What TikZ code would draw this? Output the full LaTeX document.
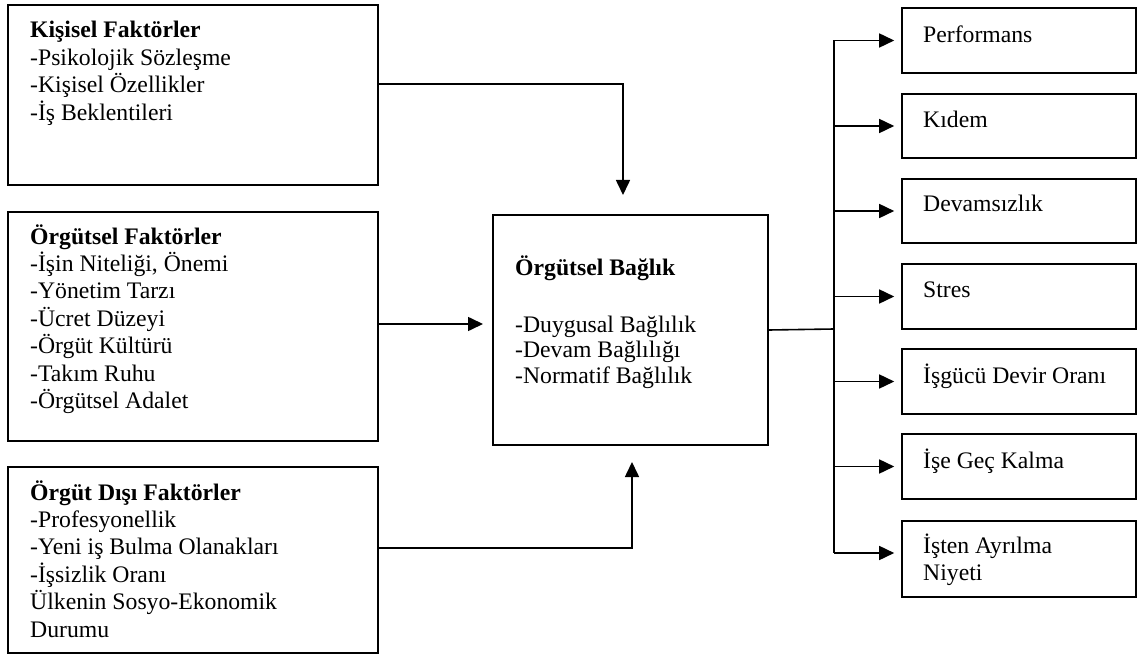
\documentclass[tikz,border=0pt]{standalone}
\usepackage{fontspec}
\setmainfont{Liberation Serif}
\usetikzlibrary{arrows.meta,calc}
\begin{document}
\begin{tikzpicture}[x=1pt,y=-1pt,
  box/.style={draw, line width=1.6pt, rectangle, inner sep=0pt},
  conn/.style={line width=1.6pt},
  arr/.style={conn, -{Triangle[length=15pt,width=14pt]}},
  txt/.style={anchor=base west, inner sep=0pt, align=left, font=\fontsize{23.7}{27.4}\selectfont},
]
\useasboundingbox (0,0) rectangle (1138,655);

% factor boxes on the left
\node[box, minimum width=370pt, minimum height=180pt] (b1) at (193,95) {};
\node[box, minimum width=370pt, minimum height=229pt] (b2) at (193,326.5) {};
\node[box, minimum width=370pt, minimum height=186pt] (b3) at (193,560) {};

% central box
\node[box, minimum width=275pt, minimum height=230pt] (c) at (630.5,330) {};

% outcome boxes on the right
\node[box, minimum width=234pt, minimum height=65pt] (r1) at (1019,40.5) {};
\node[box, minimum width=234pt, minimum height=64pt] (r2) at (1019,126) {};
\node[box, minimum width=234pt, minimum height=64pt] (r3) at (1019,211) {};
\node[box, minimum width=234pt, minimum height=65pt] (r4) at (1019,296.5) {};
\node[box, minimum width=234pt, minimum height=65pt] (r5) at (1019,381.5) {};
\node[box, minimum width=234pt, minimum height=65pt] (r6) at (1019,466.5) {};
\node[box, minimum width=234pt, minimum height=76pt] (r7) at (1019,559) {};

% texts (a multi-line node sits on the baseline of its last line)
\node[txt] (b1t) at (30,120.2) {\textbf{Kişisel Faktörler}\\-Psikolojik Sözleşme\\-Kişisel Özellikler\\-İş Beklentileri};
\node[txt] (b2t) at (30,408.4) {\textbf{Örgütsel Faktörler}\\-İşin Niteliği, Önemi\\-Yönetim Tarzı\\-Ücret Düzeyi\\-Örgüt Kültürü\\-Takım Ruhu\\-Örgütsel Adalet};
\node[txt] (b3t) at (30,637) {\textbf{Örgüt Dışı Faktörler}\\-Profesyonellik\\-Yeni iş Bulma Olanakları\\-İşsizlik Oranı\\Ülkenin Sosyo-Ekonomik\\Durumu};
\node[txt] (ct) at (515,275) {\textbf{Örgütsel Bağlık}};
\node[txt, font=\fontsize{23.7}{25.7}\selectfont] (cl) at (515,383.4) {-Duygusal Bağlılık\\-Devam Bağlılığı\\-Normatif Bağlılık};

\node[txt] (r1t) at (923,43) {Performans};
\node[txt] (r2t) at (923,128) {Kıdem};
\node[txt] (r3t) at (923,212) {Devamsızlık};
\node[txt] (r4t) at (923,297) {Stres};
\node[txt] (r5t) at (923,383) {İşgücü Devir Oranı};
\node[txt] (r6t) at (923,468) {İşe Geç Kalma};
\node[txt, font=\fontsize{23.7}{27}\selectfont] (r7t) at (923,580) {İşten Ayrılma\\Niyeti};

% arrow ends and junction points
\coordinate (in1) at (623,195);
\coordinate (in2) at (483,324);
\coordinate (in3) at (632,462);
\coordinate (trunk) at (834,329);
\coordinate (r7in) at ([yshift=6pt]r7.west);

% connectors into the central box
\draw[arr] ([yshift=11pt]b1.east) -| (in1);
\draw[arr] ([yshift=2.5pt]b2.east) -- (in2);
\draw[arr] ([yshift=12pt]b3.east) -| (in3);

% connectors out of the central box
\draw[conn] (c.east) -- (trunk);
\draw[conn] (trunk |- r1.west) -- (trunk |- r7in);
\foreach \r in {r1,r2,r3,r4,r5,r6}
  \draw[arr, shorten >=7pt] (trunk |- \r.west) -- (\r.west);
\draw[arr, shorten >=7pt] (trunk |- r7in) -- (r7in);
\end{tikzpicture}
\end{document}
